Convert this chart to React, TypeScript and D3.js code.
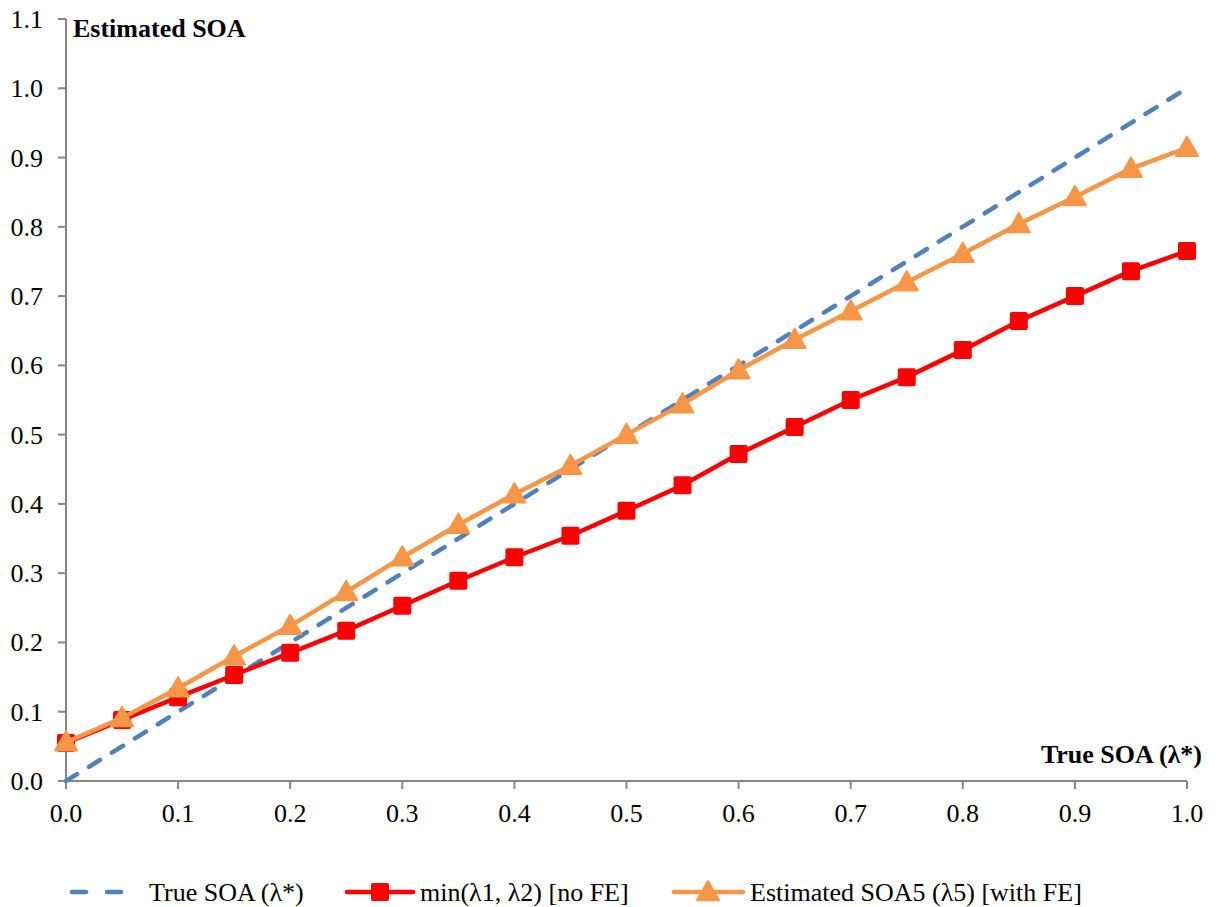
import React from "react";
import * as d3 from "d3";

const xValues = [0, 0.05, 0.1, 0.15, 0.2, 0.25, 0.3, 0.35, 0.4, 0.45, 0.5, 0.55, 0.6, 0.65, 0.7, 0.75, 0.8, 0.85, 0.9, 0.95, 1.0];
const trueSOA = [0, 1.0];
const trueSOAx = [0, 1.0];
const minLambda = [0.055, 0.088, 0.121, 0.153, 0.185, 0.217, 0.253, 0.289, 0.323, 0.354, 0.39, 0.427, 0.472, 0.511, 0.55, 0.583, 0.622, 0.664, 0.7, 0.736, 0.765];
const estSOA5 = [0.056, 0.091, 0.134, 0.18, 0.224, 0.273, 0.323, 0.37, 0.414, 0.455, 0.5, 0.544, 0.593, 0.637, 0.678, 0.72, 0.761, 0.804, 0.843, 0.884, 0.914];
const xTicks = [0, 0.1, 0.2, 0.3, 0.4, 0.5, 0.6, 0.7, 0.8, 0.9, 1.0];
const yTicks = [0, 0.1, 0.2, 0.3, 0.4, 0.5, 0.6, 0.7, 0.8, 0.9, 1.0, 1.1];
const legendLabels = ["True SOA (λ*)", "min(λ1, λ2) [no FE]", "Estimated SOA5 (λ5) [with FE]"];

const BLUE = "#4F81BD";
const RED = "#FF0000";
const ORANGE = "#F79646";
const AXIS = "#868686";
const FONT = "Liberation Serif, Times New Roman, DejaVu Serif, serif";
const ts: React.CSSProperties = { fontFamily: FONT };
const FS = 26;

export default function App() {
  const W = 1216, H = 907;
  const x = d3.scaleLinear().domain([0, 1]).range([66, 1187]);
  const y = d3.scaleLinear().domain([0, 1.1]).range([781, 19]);
  const line = d3.line<[number, number]>().x(d => x(d[0])).y(d => y(d[1]));
  const truePts: [number, number][] = trueSOAx.map((v, i) => [v, trueSOA[i]]);
  const redPts: [number, number][] = xValues.map((v, i) => [v, minLambda[i]]);
  const orPts: [number, number][] = xValues.map((v, i) => [v, estSOA5[i]]);
  const tri = (cx: number, cy: number, s = 11) =>
    `M${cx},${cy - s} L${cx + s},${cy + s * 0.75} L${cx - s},${cy + s * 0.75} Z`;
  const sq = 9;
  const LY = 892;

  return (
    <svg width={W} height={H} style={{ position: "absolute", left: 0, top: 0, background: "#fff", fontFamily: FONT }}>
      <rect x={0} y={0} width={W} height={H} fill="#fff" />
      {/* axes */}
      <line x1={x(0)} x2={x(0)} y1={y(1.1)} y2={y(0)} stroke={AXIS} strokeWidth={2} />
      <line x1={x(0)} x2={x(1)} y1={y(0)} y2={y(0)} stroke={AXIS} strokeWidth={2} />
      {yTicks.map(t => (
        <g key={"y" + t}>
          <line x1={x(0) - 8} x2={x(0)} y1={y(t)} y2={y(t)} stroke={AXIS} strokeWidth={2} />
          <text x={43} y={y(t) + 9} textAnchor="end" fontSize={FS} fill="#000" style={ts}>{t.toFixed(1)}</text>
        </g>
      ))}
      {xTicks.map(t => (
        <g key={"x" + t}>
          <line x1={x(t)} x2={x(t)} y1={y(0)} y2={y(0) + 8} stroke={AXIS} strokeWidth={2} />
          <text x={x(t)} y={822} textAnchor="middle" fontSize={FS} fill="#000" style={ts}>{t.toFixed(1)}</text>
        </g>
      ))}
      <text x={73} y={37} fontSize={FS} fontWeight="bold" fill="#000" style={ts}>Estimated SOA</text>
      <text x={1202} y={763} textAnchor="end" fontSize={FS} fontWeight="bold" fill="#000" style={ts}>True SOA (λ*)</text>

      {/* series */}
      <path d={line(truePts) || ""} fill="none" stroke={BLUE} strokeWidth={4.5} strokeDasharray="13 14" strokeLinecap="round" />
      <path d={line(redPts) || ""} fill="none" stroke={RED} strokeWidth={4.5} />
      {redPts.map((p, i) => (
        <rect key={"r" + i} x={x(p[0]) - sq} y={y(p[1]) - sq} width={sq * 2} height={sq * 2} rx={2} fill={RED} />
      ))}
      <path d={line(orPts) || ""} fill="none" stroke={ORANGE} strokeWidth={4.5} />
      {orPts.map((p, i) => (
        <path key={"o" + i} d={tri(x(p[0]), y(p[1]))} fill={ORANGE} stroke={ORANGE} strokeWidth={2} strokeLinejoin="round" />
      ))}

      {/* legend */}
      <g>
        <line x1={72} x2={123} y1={LY} y2={LY} stroke={BLUE} strokeWidth={4.5} strokeDasharray="14 21" strokeLinecap="round" />
        <text x={149} y={LY + 9} fontSize={FS} fill="#000" style={ts}>{legendLabels[0]}</text>
        <line x1={347} x2={413} y1={LY} y2={LY} stroke={RED} strokeWidth={4.5} strokeLinecap="round" />
        <rect x={380 - sq} y={LY - sq} width={sq * 2} height={sq * 2} rx={2} fill={RED} />
        <text x={420} y={LY + 9} fontSize={FS} fill="#000" style={ts}>{legendLabels[1]}</text>
        <line x1={674} x2={743} y1={LY} y2={LY} stroke={ORANGE} strokeWidth={4.5} strokeLinecap="round" />
        <path d={tri(708, LY)} fill={ORANGE} stroke={ORANGE} strokeWidth={2} strokeLinejoin="round" />
        <text x={750} y={LY + 9} fontSize={FS} fill="#000" style={ts}>{legendLabels[2]}</text>
      </g>
    </svg>
  );
}
